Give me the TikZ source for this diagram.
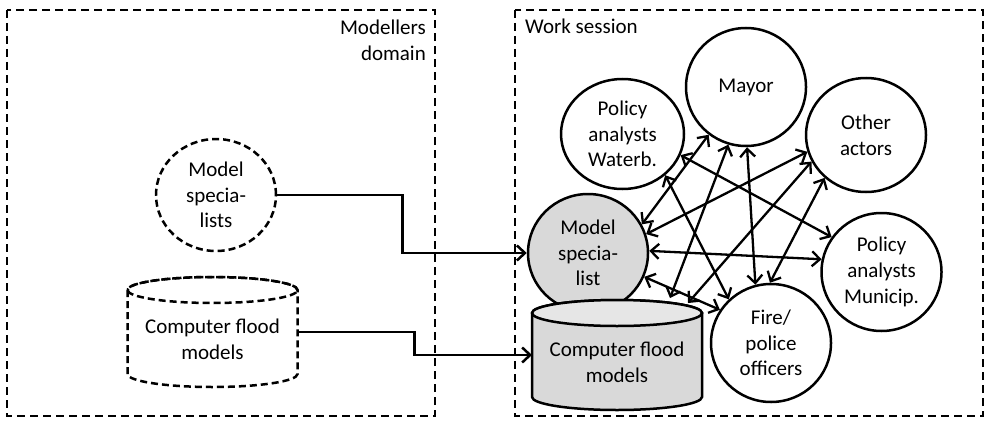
\documentclass[tikz,border=0pt]{standalone}
\usepackage{fontspec}
\setmainfont{Carlito}
\usetikzlibrary{arrows.meta,calc,shapes.geometric}
\definecolor{shade}{HTML}{D9D9D9}
\definecolor{shadetop}{HTML}{E6E6E6}
\begin{document}
\begin{tikzpicture}[x=1pt,y=1pt,
  every node/.style={font=\fontsize{21}{25.7}\selectfont, align=center, inner sep=0pt},
  region/.style={line width=2.5pt, dash pattern=on 8pt off 5pt},
  actor/.style={ellipse, draw, line width=2.5pt, fill=white, minimum width=120pt, minimum height=118pt},
  shaded/.style={fill=shade},
  dashedactor/.style={ellipse, draw, line width=2.5pt, dash pattern=on 7pt off 4pt, minimum width=120pt, minimum height=112pt},
  cylbox/.style={rectangle, minimum width=170pt, minimum height=84pt, outer sep=0pt},
  cylbody/.style={line width=2.5pt},
  flow/.style={line width=2.5pt, -{Straight Barb[length=8pt,width=15pt]}},
  link/.style={line width=2.3pt, {Straight Barb[length=8pt,width=15pt]}-{Straight Barb[length=8pt,width=15pt]}}
]
\useasboundingbox (0,0) rectangle (984,-420);

% the two domains
\draw[region] (7,-10) rectangle (435,-416);
\draw[region] (515,-10) rectangle (983,-416);
\node[anchor=north east, align=right] (domlabel) at (426,-20) {Modellers\\domain};
\node[anchor=north west] (wslabel) at (525,-19) {Work session};

% modellers domain
\node[dashedactor] (msL) at (216,-195) {Model\\specia-\\lists};
\node[cylbox] (cylL) at (212.5,-332) {};
\draw[cylbody, dash pattern=on 7pt off 4pt, fill=white]
  (cylL.north west) -- (cylL.south west)
  arc[start angle=180, end angle=360, x radius=85pt, y radius=13pt]
  -- (cylL.north east)
  arc[start angle=0, end angle=180, x radius=85pt, y radius=13pt] -- cycle;
\draw[cylbody, dash pattern=on 7pt off 4pt] (cylL.north) ellipse[x radius=85pt, y radius=13pt];
\node (cylLtext) at ([yshift=-7.5pt]cylL.center) {Computer flood\\models};

% work session actors
\node[actor] (mayor) at (746,-87) {Mayor};
\node[actor, minimum width=123pt, minimum height=110pt] (wb) at (622.5,-134) {Policy\\analysts\\Waterb.};
\node[actor, minimum height=114pt] (other) at (866,-135) {Other\\actors};
\node[actor] (munic) at (881.5,-272) {Policy\\analysts\\Municip.};
\node[actor] (fire) at (771,-343) {Fire/\\police\\officers};
\node[actor, shaded] (ms) at (588,-253) {Model\\specia-\\list};

% computer flood models in the work session
\node[cylbox] (cylR) at (617,-355) {};
\draw[cylbody, fill=shade]
  (cylR.north west) -- (cylR.south west)
  arc[start angle=180, end angle=360, x radius=85pt, y radius=13pt]
  -- (cylR.north east)
  arc[start angle=0, end angle=180, x radius=85pt, y radius=13pt] -- cycle;
\draw[cylbody, fill=shadetop] (cylR.north) ellipse[x radius=85pt, y radius=13pt];
\node (cylRtext) at ([yshift=-7pt]cylR.center) {Computer flood\\models};
\coordinate (ct1) at (670,-298);
\coordinate (ct2) at (688,-303);

% specialists and models brought into the session
\draw[flow] (msL.east) -- ++(125,0) |- (ms.west);
\draw[flow] (cylL.east) -- ++(117,0) |- (cylR.west);

% interactions between the actors
\draw[link] (ms.28) -- (mayor.232);
\draw[link] (ms.18) -- (other.196);
\draw[link] (ms.2) -- (munic.168);
\draw[link] (ms.-23) -- (fire.147);
\draw[link] (wb.-20) -- (munic.145);
\draw[link] (wb.-44) -- (fire.134);
\draw[link] (mayor.253) -- (ct1);
\draw[link] (mayor.271) -- (fire.105);
\draw[link] (other.206) -- (ct2);
\draw[link] (other.226) -- (fire.91);
\end{tikzpicture}
\end{document}
